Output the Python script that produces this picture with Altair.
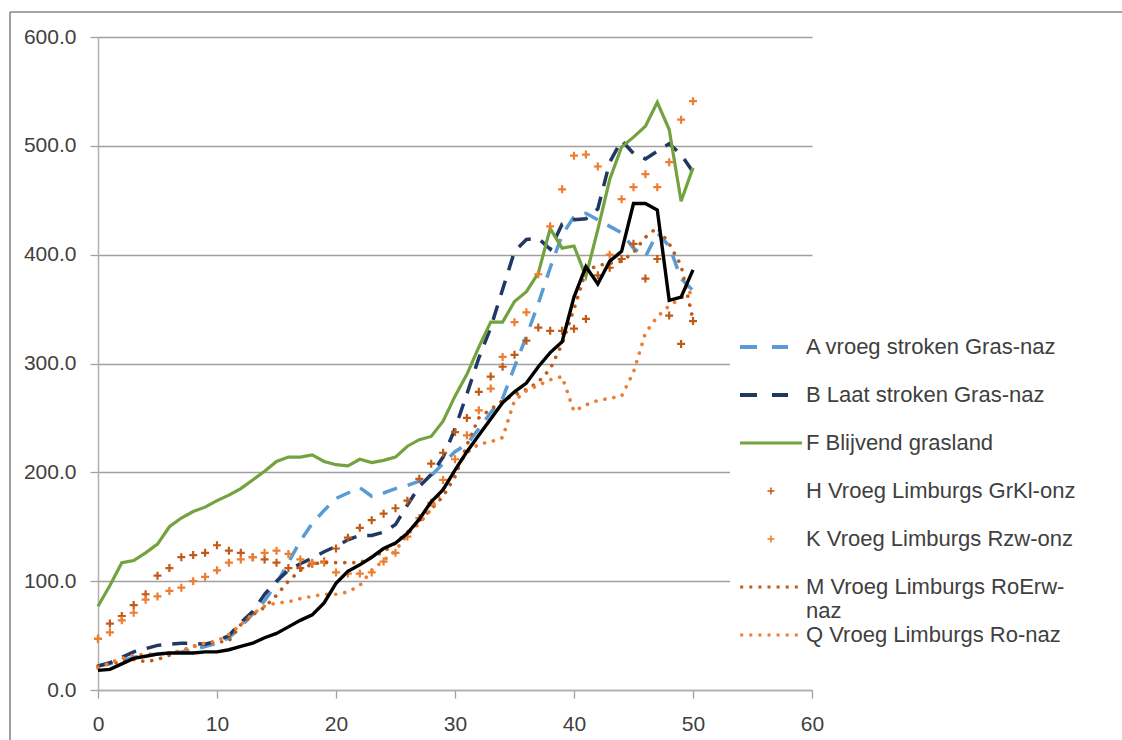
import altair as alt
import pandas as pd

days = list(range(51))

A_vals = [22, 24, 27, 30, 32, 33, 34, 35, 37, 40, 43, 48, 58, 70, 82, 98, 117, 137, 153, 165,
          176, 181, 186, 178, 181, 185, 188, 192, 197, 208, 219, 226, 240, 255, 268, 297, 325, 355, 388, 418,
          435, 438, 432, 426, 420, 406, 398, 420, 408, 378, 367]
B_vals = [22, 25, 30, 35, 38, 41, 42, 43, 43, 42, 45, 50, 62, 72, 88, 100, 110, 116, 121, 127,
          132, 138, 142, 142, 145, 152, 170, 187, 198, 214, 240, 272, 305, 333, 368, 403, 414, 415, 405, 428,
          432, 433, 442, 485, 505, 493, 488, 495, 502, 492, 476]
F_vals = [77, 96, 117, 119, 126, 134, 150, 158, 164, 168, 174, 179, 185, 193, 201, 210, 214, 214, 216, 210,
          207, 206, 212, 209, 211, 214, 224, 230, 233, 247, 270, 290, 315, 338, 338, 357, 366, 383, 424, 406,
          408, 380, 423, 469, 499, 508, 518, 540, 515, 449, 480]
H_vals = [47, 61, 68, 78, 88, 105, 112, 122, 124, 126, 133, 128, 126, 122, 120, 117, 112, 112, 116, 118,
          130, 140, 149, 156, 162, 167, 174, 194, 208, 218, 237, 250, 274, 288, 297, 308, 321, 333, 330, 330,
          332, 341, 381, 388, 396, 410, 378, 396, 344, 318, 339]
K_vals = [47, 53, 64, 71, 83, 86, 91, 94, 100, 104, 110, 117, 120, 122, 126, 128, 125, 120, 117, 117,
          108, 107, 107, 108, 118, 126, 141, 158, 172, 193, 212, 234, 257, 277, 306, 338, 347, 382, 426, 460,
          491, 492, 481, 400, 451, 462, 474, 462, 485, 524, 541]
M_vals = [22, 24, 26, 28, 26, 28, 32, 36, 40, 43, 44, 45, 60, 69, 76, 87, 100, 110, 116, 117,
          117, 117, 117, 122, 127, 135, 145, 155, 166, 178, 196, 225, 250, 258, 266, 271, 276, 283, 295, 318,
          350, 385, 390, 392, 394, 402, 416, 425, 410, 390, 340]
Q_vals = [20, 25, 29, 32, 33, 33, 34, 36, 40, 43, 45, 51, 60, 70, 77, 80, 81, 84, 86, 88,
          88, 90, 96, 110, 119, 128, 143, 153, 166, 185, 202, 218, 226, 228, 232, 266, 275, 280, 285, 288,
          256, 262, 266, 268, 270, 292, 328, 343, 353, 360, 367]
black_vals = [18, 19, 24, 29, 31, 33, 34, 34, 34, 35, 35, 37, 40, 43, 48, 52, 58, 64, 69, 80,
              98, 109, 115, 122, 130, 135, 144, 157, 173, 184, 202, 219, 234, 249, 264, 274, 282, 297, 310, 320,
              361, 389, 373, 394, 403, 447, 447, 441, 358, 361, 386]

series_names = [
    "A vroeg stroken Gras-naz",
    "B Laat stroken Gras-naz",
    "F Blijvend grasland",
    "H Vroeg Limburgs GrKl-onz",
    "K Vroeg Limburgs Rzw-onz",
    "M Vroeg Limburgs RoErw-naz",
    "Q Vroeg Limburgs Ro-naz",
]
series_colors = ["#5B9BD5", "#1F3864", "#73A23F", "#C05A16", "#ED7D31", "#C05A16", "#ED7D31"]

x_ticks = [0, 10, 20, 30, 40, 50, 60]
y_ticks = [0, 100, 200, 300, 400, 500, 600]

FONT = "Liberation Sans"
TXT = "#404040"
GRID = "#a0a0a0"


def sq(a, b, h, c=0.0):
    return f"M{a:.3f},{c - h:.3f}H{b:.3f}V{c + h:.3f}H{a:.3f}Z"


# legend symbol paths (1 unit = 11 px); a tiny invisible square below each
# symbol gives every legend row the same height, room for a wrapped label
row_extent = sq(0.0, 0.002, 0.001, 3.318)
dash_path = sq(-1.0, 0.545, 0.182) + sq(1.909, 3.364, 0.182) + row_extent
solid_path = sq(-1.0, 4.636, 0.145) + row_extent
plus_path = sq(1.5, 2.136, 0.07) + sq(1.748, 1.888, 0.318) + row_extent
dot_path = "".join(sq(-0.845 + 0.827 * k - 0.136, -0.845 + 0.827 * k + 0.136, 0.136) for k in range(7)) + row_extent
legend_shapes = [dash_path, dash_path, solid_path, plus_path, plus_path, dot_path, dot_path]

x_enc = alt.X(
    "day:Q",
    title="",
    scale=alt.Scale(domain=[0, 60], nice=False, zero=True),
    axis=alt.Axis(
        values=x_ticks, grid=False, labelFont=FONT, labelFontSize=21, labelColor=TXT,
        tickSize=8, tickColor=GRID, tickWidth=1.3, domainColor="#b0b0b0", domainWidth=1.5,
        labelPadding=15, labelFlush=False, labelOverlap=False,
    ),
)
y_enc = alt.Y(
    "value:Q",
    title="",
    scale=alt.Scale(domain=[0, 600], nice=False),
    axis=alt.Axis(
        values=y_ticks, format=".1f", grid=True, gridColor=GRID, gridWidth=1.3,
        labelFont=FONT, labelFontSize=21, labelColor=TXT,
        tickSize=8, tickColor=GRID, tickWidth=1.3, domainColor="#b0b0b0", domainWidth=1.5,
        labelPadding=14,
    ),
)


def frame(vals):
    return pd.DataFrame({"day": days, "value": vals})


def dashed(vals, color):
    return alt.Chart(frame(vals)).mark_line(
        color=color, strokeWidth=3.5, strokeDash=[15, 11]
    ).encode(x=x_enc, y=y_enc)


def dotted(vals, color):
    return alt.Chart(frame(vals)).mark_line(
        color=color, strokeWidth=3.6, strokeDash=[0.1, 9], strokeCap="round"
    ).encode(x=x_enc, y=y_enc)


def pluses(vals, color):
    return alt.Chart(frame(vals)).mark_point(
        shape="M-1,0H1M0,-1V1", filled=False, size=64, strokeWidth=2.2, opacity=1, color=color
    ).encode(x=x_enc, y=y_enc)


layer_A = dashed(A_vals, series_colors[0])
layer_B = dashed(B_vals, series_colors[1])
layer_F = alt.Chart(frame(F_vals)).mark_line(color=series_colors[2], strokeWidth=3.2).encode(x=x_enc, y=y_enc)
layer_H = pluses(H_vals, series_colors[3])
layer_K = pluses(K_vals, series_colors[4])
layer_M = dotted(M_vals, series_colors[5])
layer_Q = dotted(Q_vals, series_colors[6])
layer_black = alt.Chart(frame(black_vals)).mark_line(color="#000000", strokeWidth=3.4).encode(x=x_enc, y=y_enc)

legend_def = alt.Legend(
    title=None,
    orient="none",
    legendX=632,
    legendY=289,
    padding=10,
    fillColor="white",
    symbolSize=484,
    symbolStrokeWidth=0,
    symbolOpacity=1,
    rowPadding=0,
    labelOffset=44,
    labelFont=FONT,
    labelFontSize=22,
    labelColor=TXT,
    labelLimit=500,
    labelExpr="datum.label == 'M Vroeg Limburgs RoErw-naz' ? ['M Vroeg Limburgs RoErw-', 'naz'] : datum.label",
)

legend_layer = alt.Chart(pd.DataFrame({"series": series_names})).transform_filter("false").mark_point(
    filled=True
).encode(
    color=alt.Color("series:N", scale=alt.Scale(domain=series_names, range=series_colors), legend=legend_def),
    shape=alt.Shape("series:N", scale=alt.Scale(domain=series_names, range=legend_shapes), legend=legend_def),
)

border_df = pd.DataFrame({"k": [0]})
border_top = alt.Chart(border_df).mark_rule(color="#878787", strokeWidth=1.6).encode(
    x=alt.value(-88), x2=alt.value(1030), y=alt.value(-25)
)
border_left = alt.Chart(border_df).mark_rule(color="#878787", strokeWidth=1.6).encode(
    x=alt.value(-88), y=alt.value(-25), y2=alt.value(720)
)

chart = alt.layer(
    layer_A, layer_B, layer_F, layer_H, layer_K, layer_M, layer_Q, layer_black,
    legend_layer, border_top, border_left,
).properties(
    width=714,
    height=653,
    autosize=alt.AutoSizeParams(type="none"),
    padding={"left": 98, "top": 37, "right": 310, "bottom": 50},
    background="white",
).configure_view(stroke="transparent")

chart.save("out.html", embed_options={"renderer": "svg", "actions": False})
